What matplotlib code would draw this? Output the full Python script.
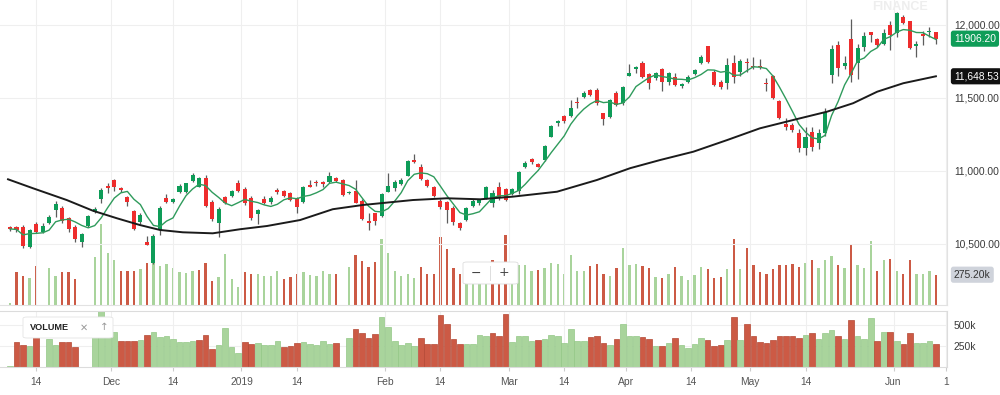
import numpy as np
import pandas as pd
import matplotlib
matplotlib.use('Agg')
import matplotlib.pyplot as plt
from matplotlib.patches import FancyBboxPatch

plt.rcParams['font.family'] = ['Liberation Sans', 'DejaVu Sans']

# daily candles, one per trading slot
open_ = [10618, 10618, 10614, 10480, 10640, 10584, 10646, 10733, 10745, 10676,
         10614, 10512, 10623, 10719, 10807, 10900, 10936, 10882, 10824, 10726,
         10651, 10516, 10372, 10596, 10814, 10786, 10856, 10856, 10934, 10893,
         10950, 10790, 10646, 10824, 10831, 10920, 10876, 10813, 10706, 10808,
         10790, 10870, 10865, 10847, 10813, 10786, 10904, 10927, 10923, 10927,
         10954, 10938, 10847, 10865, 10797, 10660, 10710, 10692, 10858, 10886,
         10911, 10968, 11075, 11030, 10938, 10888, 10797, 10790, 10745, 10642,
         10664, 10760, 10778, 10813, 10779, 10888, 10875, 10842, 10865, 11030,
         11082, 11048, 11075, 11235, 11331, 11379, 11377, 11475, 11505, 11555,
         11555, 11395, 11372, 11536, 11464, 11651, 11699, 11738, 11662, 11635,
         11699, 11612, 11646, 11582, 11612, 11665, 11738, 11856, 11680, 11612,
         11601, 11738, 11680, 11749, 11721, 11721, 11605, 11651, 11479, 11322,
         11315, 11258, 11155, 11269, 11190, 11262, 11658, 11863, 11721, 11902,
         11742, 11851, 11954, 11902, 11868, 12000, 11947, 12053, 12029, 11858,
         11938, 11954, 11954]
high = [10624, 10625, 10630, 10605, 10650, 10645, 10700, 10794, 10760, 10685,
        10630, 10576, 10700, 10750, 10885, 10915, 10945, 10890, 10830, 10733,
        10712, 10555, 10568, 10760, 10840, 10815, 10910, 10920, 10985, 10960,
        10973, 10800, 10750, 10830, 10870, 10938, 10890, 10826, 10740, 10830,
        10830, 10880, 10870, 10855, 10820, 10900, 10935, 10935, 10930, 10991,
        10960, 10945, 10862, 10938, 10805, 10710, 10715, 10850, 10984, 10940,
        10950, 11075, 11116, 11045, 10945, 10895, 10805, 10797, 10760, 10650,
        10755, 10808, 10806, 10900, 10870, 10925, 10880, 10880, 11000, 11065,
        11090, 11055, 11180, 11315, 11350, 11385, 11486, 11510, 11545, 11560,
        11570, 11400, 11495, 11545, 11585, 11733, 11720, 11755, 11670, 11680,
        11705, 11680, 11670, 11605, 11655, 11700, 11795, 11856, 11690, 11620,
        11772, 11795, 11770, 11775, 11780, 11765, 11640, 11655, 11485, 11360,
        11330, 11290, 11300, 11300, 11290, 11430, 11860, 11890, 11790, 12040,
        11870, 11950, 11955, 11910, 11970, 12030, 12090, 12065, 12030, 11890,
        11960, 11985, 11955]
low = [10590, 10585, 10470, 10470, 10575, 10575, 10640, 10685, 10646, 10585,
       10515, 10480, 10616, 10715, 10780, 10850, 10860, 10855, 10760, 10596,
       10637, 10490, 10365, 10560, 10780, 10780, 10850, 10850, 10925, 10890,
       10750, 10660, 10550, 10775, 10825, 10855, 10770, 10665, 10635, 10775,
       10775, 10845, 10820, 10795, 10712, 10780, 10890, 10900, 10890, 10920,
       10925, 10830, 10840, 10780, 10665, 10596, 10630, 10685, 10855, 10860,
       10905, 10965, 11055, 10935, 10890, 10820, 10740, 10645, 10630, 10595,
       10660, 10755, 10770, 10805, 10755, 10800, 10795, 10835, 10840, 11020,
       11050, 11025, 11070, 11230, 11310, 11330, 11370, 11430, 11500, 11515,
       11450, 11315, 11365, 11445, 11455, 11648, 11670, 11635, 11562, 11620,
       11550, 11590, 11580, 11570, 11600, 11660, 11735, 11740, 11580, 11560,
       11560, 11600, 11650, 11680, 11700, 11700, 11550, 11490, 11355, 11280,
       11270, 11130, 11110, 11140, 11150, 11240, 11600, 11650, 11700, 11610,
       11630, 11820, 11880, 11850, 11860, 11830, 11920, 12010, 11835, 11780,
       11860, 11920, 11870]
close = [10603, 10596, 10488, 10596, 10580, 10623, 10687, 10774, 10660, 10603,
         10531, 10567, 10692, 10737, 10870, 10882, 10892, 10870, 10786, 10603,
         10698, 10494, 10555, 10745, 10790, 10808, 10897, 10915, 10973, 10954,
         10760, 10669, 10738, 10778, 10865, 10865, 10780, 10676, 10733, 10783,
         10813, 10854, 10829, 10801, 10751, 10893, 10893, 10916, 10909, 10966,
         10932, 10836, 10858, 10783, 10669, 10646, 10660, 10840, 10897, 10923,
         10938, 11069, 11060, 10943, 10897, 10831, 10751, 10733, 10653, 10608,
         10745, 10797, 10801, 10893, 10847, 10813, 10801, 10875, 10995, 11057,
         11060, 11030, 11173, 11308, 11345, 11345, 11430, 11464, 11536, 11521,
         11464, 11356, 11486, 11452, 11573, 11669, 11710, 11642, 11601, 11669,
         11612, 11673, 11589, 11596, 11646, 11692, 11783, 11745, 11589, 11574,
         11726, 11642, 11753, 11738, 11710, 11710, 11596, 11498, 11361, 11303,
         11281, 11155, 11231, 11166, 11262, 11406, 11834, 11708, 11738, 11658,
         11840, 11925, 11932, 11863, 11947, 11932, 12084, 12016, 11840, 11870,
         11927, 11961, 11906.2]

# volume in thousands, None where the feed has no value
volume_k = [16, 298, 262, 246, 355, None, 337, 266, 298, 298,
            238, None, None, 439, 737, 469, 413, 313, 305, 313,
            325, 385, 416, 357, 373, 337, 298, 294, 305, 317,
            377, 218, 258, 460, 238, 167, 298, 278, 286, 262,
            266, 313, 238, 250, 286, 298, 270, 266, 313, 278,
            286, None, 341, 452, 401, 345, 393, 595, 472, 305,
            262, 286, 246, 345, 278, 278, 615, 512, 333, 278,
            278, 278, 385, 373, 405, 365, 635, 298, 365, 365,
            305, 317, 333, 385, 373, 286, 452, 305, 313, 353,
            373, 286, 266, 333, 516, 365, 373, 353, 333, 254,
            246, 286, 345, 266, 226, 274, 345, 325, 246, 258,
            325, 595, 325, 516, 365, 298, 286, 325, 365, 365,
            373, 345, 385, 405, 333, 405, 444, 365, 337, 555,
            365, 333, 583, 305, 413, 420, 305, 278, 405, 286,
            286, 313, 275.2]
# g = volume bar drawn green, r = red, - = no bar
volume_dir = ("grrgr-ggrr" "r--ggggrrr" "grgggggggr" "rrggggrrgg" "ggrrrggggg"
              "r-grrrrggg" "gggrrrrrrr" "ggggrrrggg" "grgggggggr" "rrgrgggrrg"
              "rgrggggrrr" "grgrrrrrrr" "rrgrgggrgr" "gggrgrgrrg" "ggr")

# slow moving average, sampled along the line
ma_slow_idx = [-0.3, 3.5, 8.7, 12.7, 16.4, 19.9, 23, 26.5, 31.1, 35.3, 39.4, 44.5, 49.5,
               54.1, 61.8, 67, 72.1, 77.1, 83.9, 90, 95.1, 99.7, 104.8, 110, 115, 120.1,
               125.3, 129.3, 133, 137, 142]
ma_slow_val = [10943, 10882, 10801, 10728, 10676, 10630, 10596, 10580, 10573, 10601, 10623,
               10664, 10738, 10767, 10801, 10813, 10806, 10824, 10858, 10938, 11019, 11075,
               11132, 11212, 11292, 11349, 11406, 11464, 11543, 11601, 11648.53]

tick_pos = [4, 15.5, 25, 35.5, 44, 57.5, 66, 76.5, 85, 94.5, 104.5, 113.5, 122, 135.5, 143.5]
tick_lab = ['14', 'Dec', '14', '2019', '14', 'Feb', '14', 'Mar', '14', 'Apr', '14', 'May', '14', 'Jun', '1']

W, H = 1000, 395
fig = plt.figure(figsize=(10, 3.95), dpi=100)


def rect(x0, y0, x1, y1):
    return [x0 / W, 1 - y1 / H, (x1 - x0) / W, (y1 - y0) / H]


idx = np.arange(len(close))
o = np.array(open_, float)
c = np.array(close, float)
hi = np.array(high, float)
lo = np.array(low, float)
vol = np.array([np.nan if v is None else v * 1000 for v in volume_k])
vcol = ['#a9d49c' if d == 'g' else '#cc5a45' for d in volume_dir]
vedge = ['#93c786' if d == 'g' else '#b44834' for d in volume_dir]
xlim = (-1.53, 143.7)

# volume overlay behind the price
axv = fig.add_axes(rect(0, 0, 947, 305))
axv.bar(idx, vol, width=0.36, color=vcol, zorder=2)
axv.set_ylim(0, 2.77e6)
axv.set_xlim(*xlim)
axv.axis('off')

ax = fig.add_axes(rect(0, 0, 947, 305))
ax.patch.set_visible(False)
ax.set_xlim(*xlim)
ax.set_ylim(10082, 12171)
for p in tick_pos:
    ax.axvline(p, color='#efefef', lw=0.8, zorder=0)
for v in [10500, 11000, 11500, 12000]:
    ax.axhline(v, color='#efefef', lw=0.8, zorder=0)

up = c >= o
ax.vlines(idx, lo, hi, color='#5c5c5c', lw=0.9, zorder=3)
body = np.maximum(np.abs(c - o), 8)
ax.bar(idx, body, bottom=np.minimum(o, c), width=0.62,
       color=np.where(up, '#0e9c58', '#ee2d2d'), zorder=4)

ma_fast = pd.Series(c).rolling(5, min_periods=1).mean()
ax.plot(idx, ma_fast, color='#2f9b5c', lw=1.0, zorder=5)
ax.plot(ma_slow_idx, ma_slow_val, color='#1b1b1b', lw=1.4, zorder=5)

ax.yaxis.tick_right()
ax.set_yticks([10500, 11000, 11500, 12000])
ax.set_yticklabels([f'{v:,.2f}' for v in [10500, 11000, 11500, 12000]])
ax.tick_params(axis='y', length=0, pad=5, labelsize=7.4, labelcolor='#3a3a3a')
ax.set_xticks([])
for s in ['left', 'top']:
    ax.spines[s].set_visible(False)
ax.spines['right'].set_color('#e2e2e2')
ax.spines['bottom'].set_color('#e2e2e2')

# current value tags
tag = dict(xycoords=('axes fraction', 'data'), textcoords='offset points',
           va='center', ha='left', fontsize=7.4, annotation_clip=False)
ax.annotate(f'{close[-1]:.2f}', xy=(1, close[-1]), xytext=(5, 0), color='white',
            bbox=dict(boxstyle='round,pad=0.3,rounding_size=0.25', fc='#0f9d58', ec='none'), **tag)
ax.annotate(f'{ma_slow_val[-1]:,.2f}', xy=(1, ma_slow_val[-1]), xytext=(5, 0), color='white',
            bbox=dict(boxstyle='round,pad=0.3,rounding_size=0.25', fc='#111111', ec='none'), **tag)
axv.annotate(f'{volume_k[-1]:.2f}k', xy=(1, vol[-1]), xytext=(5, 0), color='#333333',
             xycoords=('axes fraction', 'data'), textcoords='offset points', va='center',
             ha='left', fontsize=7.4, annotation_clip=False,
             bbox=dict(boxstyle='round,pad=0.3,rounding_size=0.25', fc='#cfd3db', ec='none'))

# lower volume panel
axl = fig.add_axes(rect(0, 311, 947, 367))
axl.set_xlim(*xlim)
axl.set_ylim(0, 667e3)
for p in tick_pos:
    axl.axvline(p, color='#efefef', lw=0.8, zorder=0)
for v in [250e3, 500e3]:
    axl.axhline(v, color='#efefef', lw=0.8, zorder=0)
axl.bar(idx, vol, width=0.86, color=vcol, edgecolor=vedge, lw=0.5, zorder=2)
axl.yaxis.tick_right()
axl.set_yticks([250e3, 500e3])
axl.set_yticklabels(['250k', '500k'])
axl.tick_params(axis='y', length=0, pad=5, labelsize=7.4, labelcolor='#3a3a3a')
axl.set_xticks(tick_pos)
axl.set_xticklabels(tick_lab)
axl.tick_params(axis='x', length=3, color='#cccccc', pad=4, labelsize=7.4, labelcolor='#555555')
axl.spines['left'].set_visible(False)
for s in ['top', 'right', 'bottom']:
    axl.spines[s].set_color('#dcdcdc')

# legend chip and zoom buttons
fig.patches.append(FancyBboxPatch((23 / W, 1 - 338 / H), 90 / W, 21 / H,
                                  boxstyle='round,pad=0,rounding_size=0.004',
                                  transform=fig.transFigure, fc='white', ec='#e4e4e4', lw=0.6, zorder=10))
fig.text(30 / W, 1 - 327.5 / H, 'VOLUME', fontsize=6.6, color='#222222', weight='bold',
         va='center', zorder=11)
fig.text(84 / W, 1 - 327.5 / H, '✕', fontsize=7, color='#9a9a9a', va='center', ha='center',
         family='DejaVu Sans', zorder=11)
fig.text(104 / W, 1 - 327.5 / H, '↑', fontsize=7.5, color='#9a9a9a', va='center', ha='center',
         family='DejaVu Sans', zorder=11)

fig.patches.append(FancyBboxPatch((463 / W, 1 - 284 / H), 55 / W, 22 / H,
                                  boxstyle='round,pad=0,rounding_size=0.004',
                                  transform=fig.transFigure, fc='white', ec='#dddddd', lw=0.6, zorder=10))
fig.text(476 / W, 1 - 273 / H, '−', fontsize=9, color='#444444', va='center', ha='center',
         family='DejaVu Sans', zorder=11)
fig.text(504 / W, 1 - 273 / H, '+', fontsize=9, color='#444444', va='center', ha='center',
         family='DejaVu Sans', zorder=11)
fig.add_artist(plt.Line2D([490 / W, 490 / W], [1 - 280 / H, 1 - 266 / H], color='#dddddd',
                          lw=0.7, transform=fig.transFigure, zorder=11))

fig.text(900 / W, 1 - 7 / H, 'FINANCE', fontsize=9, color='#eeeeee', weight='bold',
         ha='center', va='center')

fig.savefig('out.png', dpi=100)
